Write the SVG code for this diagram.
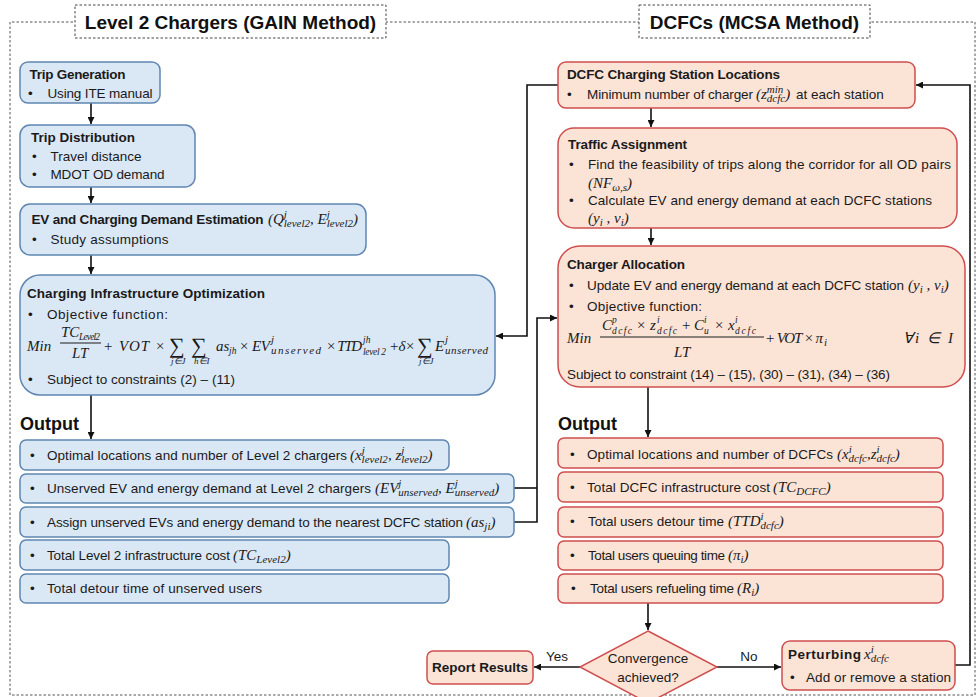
<svg xmlns="http://www.w3.org/2000/svg" width="976" height="697" viewBox="0 0 976 697">
<defs>
<marker id="ah" viewBox="0 0 10 10" refX="10" refY="5" markerWidth="7" markerHeight="7" orient="auto" markerUnits="userSpaceOnUse"><path d="M0,0 L10,5 L0,10 z" fill="#111"/></marker>
<style>
.frame{fill:none;stroke:#555;stroke-width:1;stroke-dasharray:2.5 2}
.hdr{fill:#fff;stroke:#444;stroke-width:1;stroke-dasharray:2.5 2}
.ht{font-family:"Liberation Sans",Arial,sans-serif;font-weight:bold;font-size:19px;fill:#111;text-anchor:middle}
.bl{fill:#dae8f5;stroke:#5f86b0;stroke-width:1.5}
.rd{fill:#fbe3d6;stroke:#cf4f4f;stroke-width:1.5}
.t{font-family:"Liberation Sans",Arial,sans-serif;font-size:13.5px;fill:#1a1a1a}
.b{font-weight:bold}
.mid{text-anchor:middle}
.oh{font-family:"Liberation Sans",Arial,sans-serif;font-size:18px;font-weight:bold;fill:#111}
.m{font-family:"Liberation Serif","Times New Roman",serif;font-style:italic;font-size:15px;font-weight:normal;fill:#1a1a1a}
.s{font-size:11px}
.ss{font-size:9.5px}
.lim{font-size:9px}
.sum{font-family:"Liberation Serif","DejaVu Serif",serif;font-size:22px;fill:#1a1a1a}
.c{fill:none;stroke:#111;stroke-width:1.6}
.bar{stroke:#1a1a1a;stroke-width:1}
</style>
</defs>

<!-- frame and headers -->
<g id="frame">
<path class="frame" d="M10,22 V695 H975 V22 Z"/>
<rect class="hdr" x="75" y="5" width="311" height="33"/>
<text class="ht" x="230.5" y="28.5">Level 2 Chargers (GAIN Method)</text>
<rect class="hdr" x="639" y="5" width="231" height="33"/>
<text class="ht" x="754.5" y="28.5">DCFCs (MCSA Method)</text>
</g>

<!-- connectors -->
<g id="connectors">
<path class="c" d="M91,103 V124" marker-end="url(#ah)"/>
<path class="c" d="M91,187 V203" marker-end="url(#ah)"/>
<path class="c" d="M91,255 V274" marker-end="url(#ah)"/>
<path class="c" d="M91,395 V439" marker-end="url(#ah)"/>
<path class="c" d="M558,85 H527 V336 H496" marker-end="url(#ah)"/>
<path class="c" d="M514,488 H537"/>
<path class="c" d="M514,522 H537 V318 H557" marker-end="url(#ah)"/>
<path class="c" d="M651,108 V127" marker-end="url(#ah)"/>
<path class="c" d="M651,228 V245" marker-end="url(#ah)"/>
<path class="c" d="M648,387 V437" marker-end="url(#ah)"/>
<path class="c" d="M648,603 V630" marker-end="url(#ah)"/>
<path class="c" d="M580,667 H534" marker-end="url(#ah)"/>
<path class="c" d="M717,667 H781" marker-end="url(#ah)"/>
<path class="c" d="M955,665 H970 V85 H916" marker-end="url(#ah)"/>
<text class="t" x="557" y="661" text-anchor="middle">Yes</text>
<text class="t" x="749" y="661" text-anchor="middle">No</text>
</g>

<!-- left column -->
<g id="trip-generation">
<rect class="bl" x="20" y="62" width="140" height="41" rx="8"/>
<text class="t b" x="29.5" y="78.5" textLength="96">Trip Generation</text>
<text class="t" x="28" y="97.5">•</text>
<text class="t" x="47.5" y="97.5" textLength="105">Using ITE manual</text>
</g>

<g id="trip-distribution">
<rect class="bl" x="20" y="125" width="175" height="62" rx="10"/>
<text class="t b" x="31" y="141.5" textLength="104">Trip Distribution</text>
<text class="t" x="32" y="161">•</text>
<text class="t" x="50.5" y="161" textLength="91">Travel distance</text>
<text class="t" x="32" y="179">•</text>
<text class="t" x="50.5" y="179" textLength="114">MDOT OD demand</text>
</g>

<g id="ev-demand">
<rect class="bl" x="20" y="204" width="346" height="51" rx="10"/>
<text class="t b" x="31.5" y="224" textLength="232">EV and Charging Demand Estimation</text>
<text class="m" x="268" y="224">(Q<tspan class="s" dy="-6">j</tspan><tspan class="s" dx="-3.1" dy="9">level2</tspan><tspan dy="-3">, E</tspan><tspan class="s" dy="-6">j</tspan><tspan class="s" dx="-3.1" dy="9">level2</tspan><tspan dy="-3">)</tspan></text>
<text class="t" x="32" y="244">•</text>
<text class="t" x="50.5" y="244" textLength="118">Study assumptions</text>
</g>

<g id="infrastructure-optimization">
<rect class="bl" x="20" y="275" width="475" height="120" rx="20"/>
<text class="t b" x="27" y="298" textLength="238">Charging Infrastructure Optimization</text>
<text class="t" x="28" y="319">•</text>
<text class="t" x="47" y="319" textLength="121">Objective function:</text>
<text class="m" x="27" y="351">Min</text>
<text class="m" x="61" y="337">TC</text>
<text class="m ss" x="79" y="340" textLength="21">Level2</text>
<line class="bar" x1="60" y1="343" x2="101" y2="343"/>
<text class="m" x="72" y="358">LT</text>
<text class="m" x="103" y="351" textLength="62">+ VOT ×</text>
<text class="sum" x="169" y="353">∑</text>
<text class="sum" x="191" y="353">∑</text>
<text class="m lim" x="171" y="364">j∈J</text>
<text class="m lim" x="194" y="364">h∈I</text>
<text class="m" x="216" y="351">as</text>
<text class="m ss" x="229" y="354">jh</text>
<text class="m" x="239" y="351" textLength="31">× EV</text>
<text class="m s" x="271" y="343">j</text>
<text class="m s" x="271" y="354" textLength="50">unserved</text>
<text class="m" x="326" y="351" textLength="36">× TTD</text>
<text class="m ss" x="363" y="343">jh</text>
<text class="m ss" x="363" y="355" textLength="23">level 2</text>
<text class="m" x="389" y="351" textLength="26">+ δ ×</text>
<text class="sum" x="417" y="353">∑</text>
<text class="m lim" x="419" y="364">j∈J</text>
<text class="m" x="435" y="351">E</text>
<text class="m s" x="445" y="343">j</text>
<text class="m s" x="445" y="354" textLength="43">unserved</text>
<text class="t" x="28" y="384">•</text>
<text class="t" x="47" y="384" textLength="188">Subject to constraints (2) – (11)</text>
</g>

<text class="oh" x="20" y="430">Output</text>

<g id="out-l2-locations">
<rect class="bl" x="20" y="440" width="429" height="30" rx="6"/>
<text class="t" x="30" y="459.5">•</text>
<text class="t" x="47" y="459.5" textLength="300">Optimal locations and number of Level 2 chargers</text>
<text class="m" x="350" y="459.5">(x<tspan class="s" dy="-6">j</tspan><tspan class="s" dx="-3.1" dy="9">level2</tspan><tspan dy="-3">, z</tspan><tspan class="s" dy="-6">j</tspan><tspan class="s" dx="-3.1" dy="9">level2</tspan><tspan dy="-3">)</tspan></text>
</g>

<g id="out-l2-unserved">
<rect class="bl" x="20" y="474" width="494" height="29" rx="6"/>
<text class="t" x="30" y="493">•</text>
<text class="t" x="47" y="493" textLength="324">Unserved EV and energy demand at Level 2 chargers</text>
<text class="m" x="375" y="493">(EV<tspan class="s" dy="-6">j</tspan><tspan class="s" dx="-3.1" dy="9">unserved</tspan><tspan dy="-3">, E</tspan><tspan class="s" dy="-6">j</tspan><tspan class="s" dx="-3.1" dy="9">unserved</tspan><tspan dy="-3">)</tspan></text>
</g>

<g id="out-l2-assign">
<rect class="bl" x="20" y="507" width="494" height="30" rx="6"/>
<text class="t" x="30" y="526.5">•</text>
<text class="t" x="47" y="526.5" textLength="416">Assign unserved EVs and energy demand to the nearest DCFC station</text>
<text class="m" x="466" y="526.5">(as<tspan class="s" dy="3">ji</tspan><tspan dy="-3">)</tspan></text>
</g>

<g id="out-l2-cost">
<rect class="bl" x="20" y="540" width="429" height="30" rx="6"/>
<text class="t" x="30" y="559.5">•</text>
<text class="t" x="47" y="559.5" textLength="183">Total Level 2 infrastructure cost</text>
<text class="m" x="233" y="559.5">(TC<tspan class="s" dy="3">Level2</tspan><tspan dy="-3">)</tspan></text>
</g>

<g id="out-l2-detour">
<rect class="bl" x="20" y="574" width="429" height="29" rx="6"/>
<text class="t" x="30" y="593">•</text>
<text class="t" x="47" y="593" textLength="215">Total detour time of unserved users</text>
</g>

<!-- right column -->
<g id="dcfc-locations">
<rect class="rd" x="558" y="62" width="357" height="46" rx="8"/>
<text class="t b" x="567" y="78.5" textLength="213">DCFC Charging Station Locations</text>
<text class="t" x="567" y="99">•</text>
<text class="t" x="587" y="99" textLength="166">Minimum number of charger</text>
<text class="m" x="756" y="99">(z<tspan class="s" dy="-6">min</tspan><tspan class="s" dx="-16.5" dy="9">dcfc</tspan><tspan dy="-3">)</tspan></text>
<text class="t" x="796" y="99">at each station</text>
</g>

<g id="traffic-assignment">
<rect class="rd" x="558" y="128" width="399" height="100" rx="16"/>
<text class="t b" x="568" y="149" textLength="119">Traffic Assignment</text>
<text class="t" x="569" y="169">•</text>
<text class="t" x="588" y="169" textLength="363">Find the feasibility of trips along the corridor for all OD pairs</text>
<text class="m" x="588" y="188">(NF<tspan class="s" dy="3">ω,s</tspan><tspan dy="-3">)</tspan></text>
<text class="t" x="569" y="205">•</text>
<text class="t" x="588" y="205" textLength="344">Calculate EV and energy demand at each DCFC stations</text>
<text class="m" x="588" y="223">(y<tspan class="s" dy="3">i</tspan><tspan dy="-3"> , v</tspan><tspan class="s" dy="3">i</tspan><tspan dy="-3">)</tspan></text>
</g>

<g id="charger-allocation">
<rect class="rd" x="558" y="246" width="407" height="141" rx="22"/>
<text class="t b" x="567" y="269" textLength="118">Charger Allocation</text>
<text class="t" x="569" y="290">•</text>
<text class="t" x="587" y="290" textLength="317">Update EV and energy demand at each DCFC station</text>
<text class="m" x="908" y="290">(y<tspan class="s" dy="3">i</tspan><tspan dy="-3"> , v</tspan><tspan class="s" dy="3">i</tspan><tspan dy="-3">)</tspan></text>
<text class="t" x="569" y="311">•</text>
<text class="t" x="587" y="311" textLength="115">Objective function:</text>
<text class="m" x="567" y="343">Min</text>
<text class="m" x="602" y="330">C</text>
<text class="m ss" x="612" y="323">p</text>
<text class="m ss" x="612" y="334" textLength="20">dcfc</text>
<text class="m" x="636" y="330">×</text>
<text class="m" x="650" y="330">z</text>
<text class="m ss" x="657" y="323">i</text>
<text class="m ss" x="657" y="334" textLength="20">dcfc</text>
<text class="m" x="681" y="330">+</text>
<text class="m" x="694" y="330">C</text>
<text class="m ss" x="704" y="323">i</text>
<text class="m ss" x="704" y="334">u</text>
<text class="m" x="714" y="330">×</text>
<text class="m" x="728" y="330">x</text>
<text class="m ss" x="735" y="323">i</text>
<text class="m ss" x="735" y="334" textLength="21">dcfc</text>
<line class="bar" x1="600" y1="337" x2="764" y2="337"/>
<text class="m" x="674" y="357">LT</text>
<text class="m" x="765" y="343" textLength="58">+ VOT × π</text>
<text class="m s" x="824" y="346">i</text>
<text class="m" x="903" y="343" textLength="50">∀i ∈ I</text>
<text class="t" x="567" y="379" textLength="323">Subject to constraint (14) – (15), (30) – (31), (34) – (36)</text>
</g>

<text class="oh" x="558" y="430">Output</text>

<g id="out-dcfc-locations">
<rect class="rd" x="558" y="438" width="385" height="30" rx="6"/>
<text class="t" x="570" y="458.5">•</text>
<text class="t" x="587" y="458.5" textLength="246">Optimal locations and number of DCFCs</text>
<text class="m" x="837" y="458.5">(x<tspan class="s" dy="-6">i</tspan><tspan class="s" dx="-3.1" dy="9">dcfc</tspan><tspan dy="-3">,z</tspan><tspan class="s" dy="-6">i</tspan><tspan class="s" dx="-3.1" dy="9">dcfc</tspan><tspan dy="-3">)</tspan></text>
</g>

<g id="out-dcfc-cost">
<rect class="rd" x="558" y="472" width="385" height="30" rx="6"/>
<text class="t" x="570" y="492">•</text>
<text class="t" x="587" y="492" textLength="183">Total DCFC infrastructure cost</text>
<text class="m" x="773" y="492">(TC<tspan class="s" dy="3">DCFC</tspan><tspan dy="-3">)</tspan></text>
</g>

<g id="out-dcfc-detour">
<rect class="rd" x="558" y="507" width="385" height="30" rx="6"/>
<text class="t" x="570" y="526">•</text>
<text class="t" x="588" y="526" textLength="136">Total users detour time</text>
<text class="m" x="728" y="526">(TTD<tspan class="s" dy="-6">i</tspan><tspan class="s" dx="-3.1" dy="9">dcfc</tspan><tspan dy="-3">)</tspan></text>
</g>

<g id="out-dcfc-queue">
<rect class="rd" x="558" y="541" width="385" height="29" rx="6"/>
<text class="t" x="570" y="560">•</text>
<text class="t" x="588" y="560" textLength="137">Total users queuing time</text>
<text class="m" x="728" y="560">(π<tspan class="s" dy="3">i</tspan><tspan dy="-3">)</tspan></text>
</g>

<g id="out-dcfc-refuel">
<rect class="rd" x="558" y="574" width="385" height="29" rx="6"/>
<text class="t" x="571" y="593">•</text>
<text class="t" x="590" y="593" textLength="144">Total users refueling time</text>
<text class="m" x="737" y="593">(R<tspan class="s" dy="3">i</tspan><tspan dy="-3">)</tspan></text>
</g>

<g id="convergence">
<polygon class="rd" points="648,631 717,667 648,703 580,667"/>
<text class="t mid" x="648" y="663">Convergence</text>
<text class="t mid" x="648" y="682">achieved?</text>
</g>

<g id="report-results">
<rect class="rd" x="427" y="651" width="106" height="33" rx="6"/>
<text class="t b mid" x="480" y="672">Report Results</text>
</g>

<g id="perturbing">
<rect class="rd" x="782" y="641" width="173" height="49" rx="8"/>
<text class="t b" x="788" y="659" textLength="73">Perturbing</text>
<text class="m" x="864" y="659">x<tspan class="s" dy="-6">i</tspan><tspan class="s" dx="-3.1" dy="9">dcfc</tspan></text>
<text class="t" x="790" y="682">•</text>
<text class="t" x="806" y="682" textLength="145">Add or remove a station</text>
</g>
</svg>
